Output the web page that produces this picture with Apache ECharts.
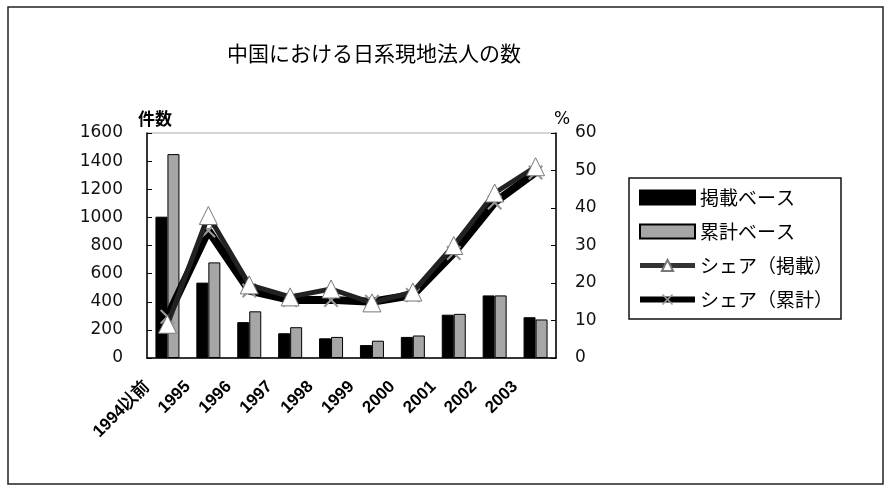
<!DOCTYPE html>
<html>
<head>
<meta charset="utf-8">
<script src="https://cdn.jsdelivr.net/npm/echarts@6/dist/echarts.min.js"></script>
<style>
html,body{margin:0;padding:0;background:#fff;}
#chart{width:892px;height:488px;}
</style>
</head>
<body>
<div id="chart"></div>
<script>
var categories = ['1994以前','1995','1996','1997','1998','1999','2000','2001','2002','2003'];
var keisaiBase = [1005, 536, 255, 176, 140, 92, 150, 308, 445, 290];
var ruikeiBase = [1450, 680, 332, 219, 150, 123, 160, 314, 445, 274];
var shareKeisai = [9, 38, 19.5, 16.3, 18.4, 14.7, 17.6, 30, 44, 51];
var shareRuikei = [11, 34, 18, 15.5, 15.5, 15, 16.8, 28, 41.5, 49.5];
var leftTicks = {min: 0, max: 1600, interval: 200};
var rightTicks = {min: 0, max: 60, interval: 10};

var chart = echarts.init(document.getElementById('chart'), null, {renderer: 'canvas'});
var cjk = '"Noto Sans CJK JP", sans-serif';
var xMark = 'path://M0,1 L1,0 L5,4 L9,0 L10,1 L6,5 L10,9 L9,10 L5,6 L1,10 L0,9 L4,5 Z';
var plain = function (v) { return String(v); };

chart.setOption({
  animation: false,
  backgroundColor: '#fff',
  title: {
    text: '中国における日系現地法人の数',
    left: 222, top: 38,
    textStyle: {fontFamily: cjk, fontSize: 21, fontWeight: 'normal', color: '#000'}
  },
  graphic: [{
    type: 'rect', shape: {x: 8, y: 7, width: 875, height: 477},
    style: {fill: 'none', stroke: '#222', lineWidth: 1.5}, silent: true, z: -1
  }],
  legend: {
    orient: 'vertical', left: 629, top: 178,
    padding: [10, 8, 10, 8], itemGap: 15,
    itemWidth: 55, itemHeight: 14,
    borderColor: '#111', borderWidth: 1.5,
    textStyle: {fontFamily: cjk, fontSize: 19, color: '#000'},
    data: [
      {name: '掲載ベース', icon: 'rect'},
      {name: '累計ベース', icon: 'rect'},
      {name: 'シェア（掲載）', lineStyle: {width: 5, color: '#333'}},
      {name: 'シェア（累計）', lineStyle: {width: 6, color: '#000'}}
    ]
  },
  grid: {left: 147, right: 336, top: 133, bottom: 130, show: true, borderColor: '#aaa', borderWidth: 1},
  xAxis: [{
    type: 'category', data: categories, boundaryGap: true,
    axisLine: {lineStyle: {color: '#000', width: 1.5}},
    axisTick: {inside: true, length: 5, lineStyle: {color: '#000'}},
    axisLabel: {show: false}
  }, {
    type: 'category', data: categories.concat(['']), boundaryGap: false, position: 'bottom',
    axisLine: {show: false}, axisTick: {show: false},
    axisLabel: {rotate: 45, margin: 26, interval: 0, hideOverlap: false,
      fontFamily: '"Liberation Sans", Arial, sans-serif', fontWeight: 'bold', fontSize: 17, color: '#000'}
  }],
  yAxis: [{
    type: 'value', min: leftTicks.min, max: leftTicks.max, interval: leftTicks.interval,
    name: '件数', nameLocation: 'end', nameGap: 6,
    nameTextStyle: {fontFamily: cjk, fontSize: 17, fontWeight: 'bold', color: '#000', padding: [0, 0, 0, 16]},
    axisLine: {show: true, lineStyle: {color: '#000', width: 1.5}},
    axisTick: {show: true, inside: true, length: 5, lineStyle: {color: '#000'}},
    splitLine: {show: false},
    axisLabel: {margin: 24, formatter: plain, fontFamily: '"DejaVu Sans", sans-serif', fontSize: 17, color: '#111'}
  }, {
    type: 'value', min: rightTicks.min, max: rightTicks.max, interval: rightTicks.interval,
    position: 'right',
    name: '%', nameLocation: 'end', nameGap: 5,
    nameTextStyle: {fontFamily: '"DejaVu Sans", sans-serif', fontSize: 17, color: '#000', padding: [0, 0, 0, 12]},
    axisLine: {show: true, lineStyle: {color: '#000', width: 1.5}},
    axisTick: {show: true, inside: true, length: 5, lineStyle: {color: '#000'}},
    splitLine: {show: false},
    axisLabel: {margin: 19, padding: [8, 0, 0, 0], formatter: plain, fontFamily: '"DejaVu Sans", sans-serif', fontSize: 17, color: '#111'}
  }],
  series: [{
    name: '掲載ベース', type: 'bar', data: keisaiBase, barWidth: 12, barGap: '0%',
    itemStyle: {color: '#000', borderColor: '#000', borderWidth: 1}
  }, {
    name: '累計ベース', type: 'bar', data: ruikeiBase, barWidth: 12,
    itemStyle: {color: '#a6a6a6', borderColor: '#000', borderWidth: 1}
  }, {
    name: 'シェア（累計）', type: 'line', yAxisIndex: 1, data: shareRuikei, z: 3,
    lineStyle: {color: '#000', width: 8},
    symbol: xMark, symbolSize: 15, showAllSymbol: true,
    itemStyle: {color: '#999', borderColor: '#999', borderWidth: 0}
  }, {
    name: 'シェア（掲載）', type: 'line', yAxisIndex: 1, data: shareKeisai, z: 4,
    lineStyle: {color: '#222', width: 5},
    symbol: 'triangle', symbolSize: [18, 18], showAllSymbol: true,
    itemStyle: {color: '#fff', borderColor: '#777', borderWidth: 1}
  }]
});
</script>
</body>
</html>
